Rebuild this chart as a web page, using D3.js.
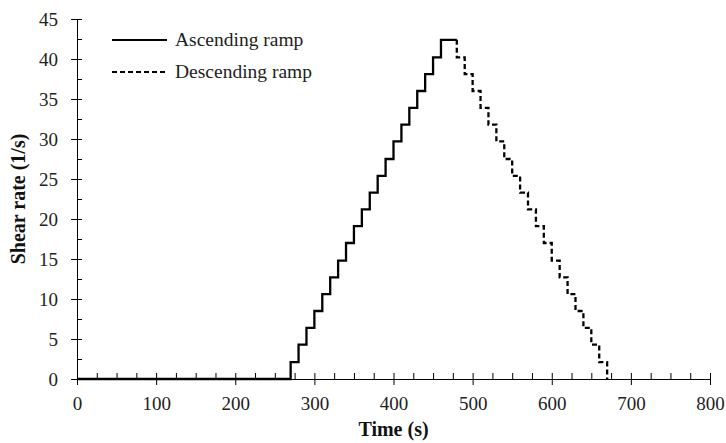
<html>
<head>
<meta charset="utf-8">
<script src="https://d3js.org/d3.v7.min.js"></script>
<style>
body {
	margin: 0;
	background: #fff;
}
.axis path, .axis line {
	stroke: #000;
	stroke-width: 1;
}
.axis text {
	font-family: "Liberation Serif", "Times New Roman", serif;
	font-size: 19px;
	fill: #222;
}
.title {
	font-family: "Liberation Serif", "Times New Roman", serif;
	font-weight: bold;
	font-size: 20px;
	fill: #111;
}
.legend text {
	font-family: "Liberation Serif", "Times New Roman", serif;
	font-size: 19.5px;
	fill: #222;
}
</style>
</head>
<body>
<div id="chart"></div>
<script>

// ascending ramp: time (s) and shear rate (1/s), held until the next point
var ascTime = [0, 270, 280, 290, 300, 310, 320, 330, 340, 350, 360, 370, 380, 390, 400, 410, 420, 430, 440, 450, 460, 480];
var ascRate = [0, 2.1, 4.3, 6.4, 8.5, 10.6, 12.7, 14.8, 17.0, 19.1, 21.2, 23.3, 25.4, 27.5, 29.7, 31.8, 33.9, 36.0, 38.1, 40.2, 42.4, 42.4];

// descending ramp
var descTime = [480, 480, 490, 500, 510, 520, 530, 540, 550, 560, 570, 580, 590, 600, 610, 620, 630, 640, 650, 660, 670];
var descRate = [42.4, 40.2, 38.1, 36.0, 33.9, 31.8, 29.7, 27.5, 25.4, 23.3, 21.2, 19.1, 17.0, 14.8, 12.7, 10.6, 8.5, 6.4, 4.3, 2.1, 0];

var xTicks = [0, 100, 200, 300, 400, 500, 600, 700, 800];
var yTicks = [0, 5, 10, 15, 20, 25, 30, 35, 40, 45];

var margin = {top: 19, right: 16, bottom: 64, left: 77},
	width = 726 - margin.left - margin.right,
	height = 443 - margin.top - margin.bottom;

var svg = d3.select("#chart").append("svg")
	.attr("width", 726)
	.attr("height", 443);

var g = svg.append("g")
	.attr("transform", "translate(" + margin.left + "," + margin.top + ")");

var x = d3.scaleLinear().domain([0, 800]).range([0, width]),
	y = d3.scaleLinear().domain([0, 45]).range([height, 0]);

// minor ticks, inside the plot
g.append("g")
	.attr("class", "axis")
	.attr("transform", "translate(0," + height + ")")
	.call(d3.axisTop(x).tickValues(d3.range(0, 801, 25)).tickSize(6).tickFormat(""))
	.select(".domain").remove();

g.append("g")
	.attr("class", "axis")
	.call(d3.axisRight(y).tickValues(d3.range(0, 45.1, 2.5)).tickSize(5).tickFormat(""))
	.select(".domain").remove();

// major ticks and labels
g.append("g")
	.attr("class", "axis")
	.attr("transform", "translate(0," + height + ")")
	.call(d3.axisBottom(x).tickValues(xTicks).tickSize(6).tickSizeOuter(0).tickPadding(12));

g.append("g")
	.attr("class", "axis")
	.call(d3.axisLeft(y).tickValues(yTicks).tickSize(6).tickSizeOuter(0).tickPadding(13));

var line = d3.line()
	.x(function(d) { return x(d[0]); })
	.y(function(d) { return y(d[1]); })
	.curve(d3.curveStepAfter);

var asc = ascTime.map(function(t, i) { return [t, ascRate[i]]; });
var desc = descTime.map(function(t, i) { return [t, descRate[i]]; });

g.append("path")
	.datum(asc)
	.attr("fill", "none")
	.attr("stroke", "#000")
	.attr("stroke-width", 2.3)
	.attr("d", line);

g.append("path")
	.datum(desc)
	.attr("fill", "none")
	.attr("stroke", "#000")
	.attr("stroke-width", 2.3)
	.attr("stroke-dasharray", "5,3")
	.attr("d", line);

// axis titles
svg.append("text")
	.attr("class", "title")
	.attr("text-anchor", "middle")
	.attr("x", margin.left + width / 2)
	.attr("y", 436)
	.text("Time (s)");

svg.append("text")
	.attr("class", "title")
	.attr("text-anchor", "middle")
	.attr("transform", "translate(25," + (margin.top + height / 2) + ") rotate(-90)")
	.text("Shear rate (1/s)");

// legend
var legend = svg.append("g").attr("class", "legend");
var items = [
	{label: "Ascending ramp", dash: null},
	{label: "Descending ramp", dash: "5,3"}
];
items.forEach(function(d, i) {
	var ly = 40 + i * 32;
	legend.append("line")
		.attr("x1", 112).attr("x2", 167)
		.attr("y1", ly).attr("y2", ly)
		.attr("stroke", "#000")
		.attr("stroke-width", 2)
		.attr("stroke-dasharray", d.dash);
	legend.append("text")
		.attr("x", 175)
		.attr("y", ly)
		.attr("dy", "0.33em")
		.text(d.label);
});

</script>
</body>
</html>
